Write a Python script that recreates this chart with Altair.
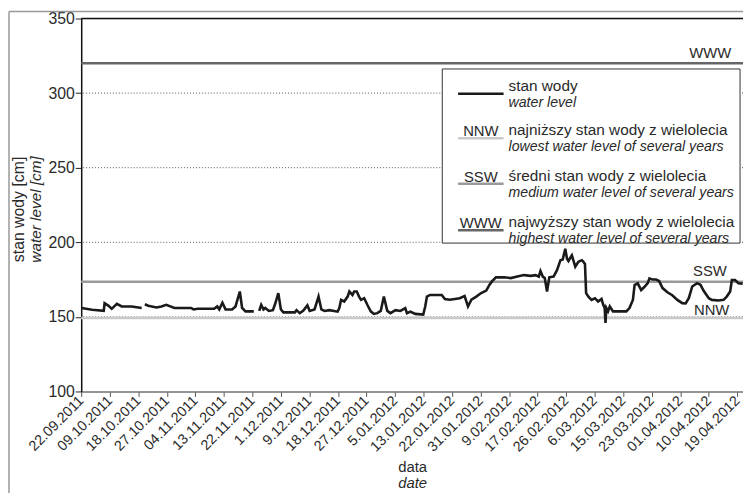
import altair as alt
import pandas as pd

# ---------------- data ----------------
tick_labels = ["22.09.2011", "09.10.2011", "18.10.2011", "27.10.2011", "04.11.2011",
               "13.11.2011", "22.11.2011", "1.12.2011", "9.12.2011", "18.12.2011",
               "27.12.2011", "5.01.2012", "13.01.2012", "22.01.2012", "31.01.2012",
               "9.02.2012", "17.02.2012", "26.02.2012", "6.03.2012", "15.03.2012",
               "23.03.2012", "01.04.2012", "10.04.2012", "19.04.2012"]

# position in tick units (0 = 22.09.2011), water level in cm; None = gap in record
pos = [0.01, 0.38, 0.79, 0.82, 0.96, 1.07, 1.25, 1.42, 1.77, 2.12, None,
       2.23, 2.35, 2.64, 2.81, 2.98, 3.27, 3.85, 3.94, 4.08, 4.66, 4.77, 4.84, 4.95,
       5.06, 5.29, 5.41, 5.56, 5.64, 5.76, 6.05, None,
       6.24, 6.31, 6.39, 6.45, 6.58, 6.72, 6.80, 6.91, 7.00, 7.09, 7.49, 7.55, 7.66,
       7.78, 7.93, 8.01, 8.18, 8.32, 8.42, 8.53, 8.70, 8.99, 9.05, 9.11, 9.22, 9.34,
       9.40, 9.51, 9.57, 9.66, 9.74, 9.81, 9.92, 10.03, 10.15, 10.26, 10.38, 10.50,
       10.61, 10.73, 10.84, 11.02, 11.19, 11.36, 11.42, 11.54, 11.71, 11.99, 12.06,
       12.12, 12.23, 12.64, 12.75, 12.92, 13.10, 13.27, 13.44, 13.56, 13.68, 13.85,
       14.02, 14.20, 14.31, 14.39, 14.54, 14.83, 15.06, 15.29, 15.52, 15.76, 15.93,
       16.04, 16.10, 16.18, 16.25, 16.33, 16.41, 16.56, 16.68, 16.80, 16.88, 16.97,
       17.03, 17.08, 17.20, 17.26, 17.32, 17.43, 17.55, 17.60, 17.66, 17.70, 17.78,
       17.89, 18.01, 18.12, 18.24, 18.30, 18.35, 18.38, 18.41, 18.47, 18.53, 18.60,
       18.64, 19.11, 19.22, 19.34, 19.40, 19.51, 19.63, 19.74, 19.86, 19.92, 20.03,
       20.15, 20.26, 20.38, 20.55, 20.72, 20.90, 21.07, 21.19, 21.30, 21.42, 21.59,
       21.71, 21.82, 22.00, 22.11, 22.34, 22.52, 22.63, 22.75, 22.81, 22.92, 23.04,
       23.19]
level = [155.9, 154.8, 154.1, 159.2, 157.4, 155.4, 158.8, 157.0, 157.0, 156.0, None,
         158.5, 157.5, 156.3, 157.0, 158.1, 156.0, 156.0, 155.0, 155.4, 155.4, 157.0,
         155.0, 159.5, 155.0, 155.0, 157.0, 167.0, 156.0, 153.7, 153.7, None,
         154.0, 158.1, 155.0, 156.0, 154.0, 154.5, 158.8, 165.9, 155.0, 153.0, 153.0,
         154.5, 152.5, 154.0, 157.7, 154.0, 155.0, 163.6, 155.0, 154.0, 154.5, 153.5,
         156.0, 161.4, 160.3, 163.6, 167.0, 164.7, 167.0, 167.0, 163.6, 161.4, 162.5,
         158.1, 153.7, 152.0, 152.5, 154.0, 163.6, 154.0, 152.5, 154.5, 154.0, 155.9,
         152.5, 153.5, 152.0, 151.5, 157.0, 163.6, 164.7, 164.7, 162.0, 161.5, 162.0,
         162.5, 164.0, 157.0, 161.5, 163.6, 166.0, 167.6, 171.4, 173.6, 176.5, 176.5,
         176.0, 177.0, 178.0, 177.5, 178.0, 177.0, 180.7, 177.0, 176.0, 167.0, 176.5,
         177.0, 181.3, 188.0, 188.5, 195.7, 189.0, 187.5, 191.3, 187.5, 183.6, 186.9,
         188.0, 187.0, 185.5, 165.9, 163.6, 161.4, 162.5, 160.3, 162.0, 158.1, 156.0,
         146.0, 155.9, 153.7, 157.0, 155.0, 153.7, 153.7, 155.9, 161.4, 171.4, 172.5,
         168.0, 170.0, 172.6, 175.8, 175.0, 175.0, 174.0, 169.3, 166.5, 164.5, 161.4,
         159.2, 159.0, 162.5, 170.4, 172.6, 171.5, 167.5, 162.5, 161.4, 161.0, 161.4,
         163.6, 167.0, 174.7, 174.7, 172.6, 172.3]

ref_names = ["NNW", "SSW", "WWW"]
ref_values = [149.3, 173.6, 320.0]
ref_colors = ["#c9c9c9", "#9a9a9a", "#666666"]

grid_values = [150, 200, 250, 300]

legend_pl = ["stan wody", "najniższy stan wody z wielolecia",
             "średni stan wody z wielolecia", "najwyższy stan wody z wielolecia"]
legend_en = ["water level", "lowest water level of several years",
             "medium water level of several years", "highest water level of several years"]

FONT = "Liberation Sans, Arial, sans-serif"
TXT = "#2a2a2a"

# ---------------- build tables ----------------
rows = []
seg = 0
for p, v in zip(pos, level):
    if p is None:
        seg += 1
        continue
    rows.append({"pos": p, "level": v, "seg": seg})
series = pd.DataFrame(rows)
refs = pd.DataFrame({"level": ref_values, "color": ref_colors})
grid = pd.DataFrame({"level": grid_values})

xs = alt.Scale(domain=[0, 23.2], nice=False, zero=False)
ys = alt.Scale(domain=[100, 350], nice=False, zero=False)

label_expr = "[" + ",".join("'" + t + "'" for t in tick_labels) + "][datum.value]"

x_axis = alt.Axis(
    values=list(range(len(tick_labels))), labelExpr=label_expr, title=None,
    labelAngle=315, labelAlign="right", labelBaseline="middle", labelPadding=2,
    tickSize=5, tickColor="#555", domainColor="#777", domainWidth=1.5,
    labelFont=FONT, labelFontSize=14.5, labelColor=TXT, grid=False,
    labelOverlap=False, labelFlush=False)
y_axis = alt.Axis(
    values=[100, 150, 200, 250, 300, 350], title=None, tickSize=6,
    tickColor="#222", domainColor="#111", domainWidth=1.5, labelFont=FONT,
    labelFontSize=16, labelColor=TXT, grid=False, labelPadding=1)


def X(f):
    return alt.X(f, scale=xs, axis=x_axis)


def Y(f):
    return alt.Y(f, scale=ys, axis=y_axis)


line = alt.Chart(series).mark_line(color="#1a1a1a", strokeWidth=2.6).encode(
    x=X("pos:Q"), y=Y("level:Q"), detail="seg:N")

gridlines = alt.Chart(grid).mark_rule(color="#555", strokeWidth=1, strokeDash=[1, 2]).encode(
    y=Y("level:Q"))

top = alt.Chart(pd.DataFrame({"level": [350]})).mark_rule(color="#111", strokeWidth=1.5).encode(
    y=Y("level:Q"))

ref_rules = alt.Chart(refs).mark_rule(strokeWidth=2.6).encode(
    y=Y("level:Q"), color=alt.Color("color:N", scale=None))

ref_lbl_pos = pd.DataFrame({"name": ["WWW", "SSW", "NNW"], "pos": [22.05, 22.04, 22.1],
                            "level": [321.8, 175.2, 149.5]})
ref_lbls = alt.Chart(ref_lbl_pos).mark_text(font=FONT, fontSize=15, color=TXT,
                                            baseline="bottom", align="center").encode(
    x=X("pos:Q"), y=Y("level:Q"), text="name:N")

layers = [gridlines, ref_rules, top, line, ref_lbls]


def one():
    return alt.Chart(pd.DataFrame({"a": [0]}))


# legend box
layers.append(one().mark_rect(fill="white", stroke="#333", strokeWidth=1).encode(
    x=alt.value(365), x2=alt.value(666), y=alt.value(51), y2=alt.value(227)))

sample_y = [76, 121, 167, 214]
sample_col = ["#1a1a1a", "#c9c9c9", "#9a9a9a", "#666666"]
sample_txt = ["", "NNW", "SSW", "WWW"]
for i in range(4):
    layers.append(one().mark_rule(color=sample_col[i], strokeWidth=2.6).encode(
        x=alt.value(381), x2=alt.value(427), y=alt.value(sample_y[i]), y2=alt.value(sample_y[i])))
    if sample_txt[i]:
        layers.append(one().mark_text(
            font=FONT, fontSize=15, color=TXT, align="center", baseline="bottom").encode(
            x=alt.value(404), y=alt.value(sample_y[i] + 1), text=alt.value(sample_txt[i])))
    layers.append(one().mark_text(
        font=FONT, fontSize=15.5, color=TXT, align="left", baseline="middle").encode(
        x=alt.value(432), y=alt.value(sample_y[i] - 8), text=alt.value(legend_pl[i])))
    layers.append(one().mark_text(
        font=FONT, fontSize=14.3, color=TXT, align="left", baseline="middle",
        fontStyle="italic").encode(
        x=alt.value(432), y=alt.value(sample_y[i] + 9), text=alt.value(legend_en[i])))

# axis titles
layers.append(one().mark_text(
    font=FONT, fontSize=16, color=TXT, angle=270, align="center", baseline="middle").encode(
    x=alt.value(-63), y=alt.value(193), text=alt.value("stan wody [cm]")))
layers.append(one().mark_text(
    font=FONT, fontSize=15.5, color=TXT, angle=270, align="center", baseline="middle",
    fontStyle="italic").encode(
    x=alt.value(-46), y=alt.value(193), text=alt.value("water level [cm]")))
layers.append(one().mark_text(
    font=FONT, fontSize=15, color=TXT, align="center", baseline="middle").encode(
    x=alt.value(335), y=alt.value(453), text=alt.value("data")))
layers.append(one().mark_text(
    font=FONT, fontSize=15, color=TXT, align="center", baseline="middle",
    fontStyle="italic").encode(
    x=alt.value(335), y=alt.value(470), text=alt.value("date")))

# outer figure frame (left and top edges)
layers.append(one().mark_rule(color="#999", strokeWidth=1.5).encode(
    x=alt.value(-73), x2=alt.value(-73), y=alt.value(-7), y2=alt.value(485)))
layers.append(one().mark_rule(color="#999", strokeWidth=1.5).encode(
    x=alt.value(-73), x2=alt.value(669), y=alt.value(-7), y2=alt.value(-7)))

chart = alt.layer(*layers).properties(
    width=669, height=377,
    autosize=alt.AutoSizeParams(type="none"),
    padding={"left": 74, "top": 8, "right": 0, "bottom": 100},
).configure_view(stroke=None).configure(background="white")

chart.save("out.html", embed_options={"renderer": "svg", "actions": False})
